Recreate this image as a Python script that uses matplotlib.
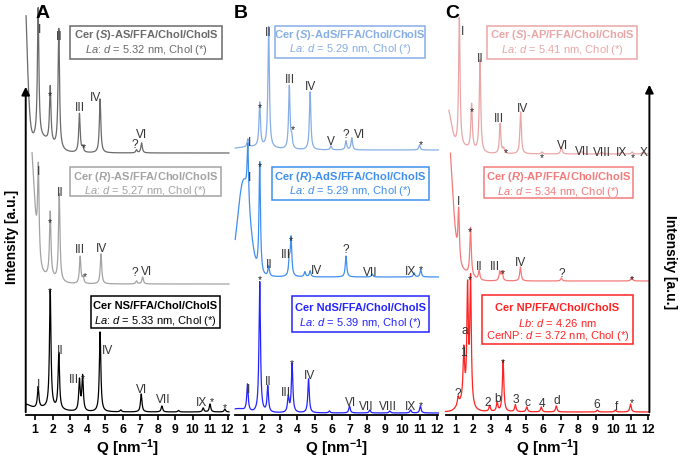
import numpy as np
import matplotlib.pyplot as plt
from matplotlib.patches import Rectangle

plt.rcParams['font.family'] = ['Liberation Sans', 'DejaVu Sans']
plt.rcParams['mathtext.fontset'] = 'custom'
plt.rcParams['mathtext.rm'] = 'Liberation Sans'
plt.rcParams['mathtext.it'] = 'Liberation Sans:italic'
plt.rcParams['mathtext.bf'] = 'Liberation Sans:bold'
try:
    plt.rcParams['mathtext.bfit'] = 'Liberation Sans:italic:bold'
except KeyError:
    pass

W, H = 682, 464
Q_MIN, Q_MAX = 0.47, 12.08
AX_ROW = 416          # pixel row of the Q axis
TICKS = list(range(1, 13))

# ---------------- data: peak positions [nm^-1] and heights [a.u.] ----------------
# panel A
as_s_q = [1.18, 1.87, 2.36, 3.54, 3.73, 4.72, 6.80, 7.09]
as_s_h = [130, 56, 120, 39, 5, 54, 3, 10]
as_s_bg = [(0.30, 200, 0.20), (1.20, 15, 0.70)]

as_r_q = [1.19, 1.87, 2.385, 3.58, 3.75, 4.77, 6.80, 7.15]
as_r_h = [90, 65, 87, 27, 6, 30, 3, 7]
as_r_bg = [(0.60, 168, 0.30), (1.50, 8, 0.60)]

ns_q = [1.18, 1.87, 2.36, 3.54, 3.72, 4.72, 5.90, 7.07, 8.25, 9.20, 10.61, 11.0, 11.85]
ns_h = [21, 118, 56, 31, 35, 80, 2, 18, 6, 1.5, 4, 8, 3]
ns_bg = [(0.40, 6, 0.30), (1.50, 4, 0.80)]

# panel B
ads_s_q = [1.19, 1.87, 2.38, 3.56, 3.70, 4.75, 5.94, 6.80, 7.13, 11.0]
ads_s_h = [8, 44, 121, 63, 10, 58, 4, 9, 12, 5]
ads_s_bg = [(1.50, 3, 1.00)]

ads_r_q = [1.19, 1.87, 2.38, 3.56, 3.66, 4.45, 4.75, 6.80, 8.30, 10.69, 11.07]
ads_r_h = [58, 112, 10, 15, 38, 5, 6, 21, 3, 4, 7]
ads_r_bg = [(0.95, 95, 0.35)]

nds_q = [1.17, 1.87, 2.33, 3.50, 3.72, 4.66, 5.85, 7.00, 8.16, 9.30, 10.49, 11.05]
nds_h = [27, 131, 26, 16, 49, 34, 2, 7, 3, 2, 3, 7]
nds_bg = [(0.60, 4, 0.40)]

# panel C
ap_s_q = [1.22, 1.92, 2.40, 3.55, 3.75, 4.72, 5.95, 7.05, 8.20, 9.35, 10.5, 11.1, 11.7]
ap_s_h = [130, 45, 92, 30, 5, 42, 2, 7, 3, 2, 3, 2, 2]
ap_s_bg = [(0.50, 45, 0.25), (1.40, 6, 0.60)]

ap_r_q = [1.18, 1.86, 2.35, 3.53, 3.66, 4.71, 7.05, 11.07]
ap_r_h = [52, 48, 9, 9, 9, 14, 3, 4]
ap_r_bg = [(0.50, 156, 0.30), (1.30, 10, 0.50)]

np_q = [1.15, 1.475, 1.69, 1.86, 2.95, 3.38, 3.72, 4.42, 5.07, 5.90, 6.76, 9.10, 10.13, 11.0]
np_h = [8, 50, 113, 125, 6, 9, 51, 7, 5, 5, 6, 2, 2, 8]
np_bg = [(1.45, 9, 0.30)]

# peak labels: (text, Q, height)
as_s_lab = [('I', 1.25, 386), ('*', 1.86, 322), ('II', 2.39, 379), ('III', 3.57, 308),
            ('*', 3.80, 270), ('IV', 4.43, 318), ('?', 6.71, 271), ('VI', 7.10, 281)]
as_r_lab = [('I', 1.23, 244), ('*', 1.86, 195), ('II', 2.43, 223), ('III', 3.57, 166),
            ('*', 3.86, 141), ('IV', 4.81, 167), ('?', 6.71, 143), ('VI', 7.38, 144)]
ns_lab = [('*', 1.86, 126), ('I', 1.23, 31), ('II', 2.43, 65), ('III', 3.23, 36),
          ('*', 3.76, 39), ('IV', 5.13, 65), ('VI', 7.10, 26), ('VII', 8.33, 16),
          ('IX', 10.53, 13), ('*', 11.10, 16), ('*', 11.86, 10)]
ads_s_lab = [('I', 1.27, 273), ('*', 1.85, 310), ('II', 2.36, 383), ('III', 3.60, 336),
             ('*', 3.79, 288), ('IV', 4.78, 329), ('V', 5.94, 274), ('?', 6.78, 281),
             ('VI', 7.60, 281), ('*', 11.07, 273)]
ads_r_lab = [('I', 1.27, 238), ('*', 1.85, 251), ('II', 2.40, 151), ('III', 3.35, 161),
             ('*', 3.64, 177), ('IV', 5.09, 145), ('?', 6.78, 166), ('VII', 8.17, 143),
             ('IX', 10.50, 144), ('*', 11.07, 148)]
nds_lab = [('*', 1.85, 138), ('I', 1.22, 26), ('II', 2.36, 34), ('III', 3.35, 23),
           ('*', 3.70, 54), ('IV', 4.74, 40), ('VI', 7.09, 13), ('VII', 7.98, 9),
           ('VIII', 9.18, 9), ('IX', 10.50, 9), ('*', 11.09, 12)]
ap_s_lab = [('I', 1.41, 384), ('*', 1.96, 306), ('II', 2.44, 357), ('III', 3.50, 297),
            ('*', 3.89, 265), ('IV', 4.82, 307), ('*', 5.96, 260), ('VI', 7.10, 270),
            ('VII', 8.27, 264), ('VIII', 9.39, 263), ('IX', 10.50, 263), ('*', 11.16, 260),
            ('X', 11.73, 263)]
ap_r_lab = [('I', 1.16, 214), ('*', 1.83, 186), ('II', 2.36, 149), ('III', 3.26, 149),
            ('*', 3.73, 144), ('IV', 4.69, 153), ('?', 7.07, 142), ('*', 11.07, 138)]
np_lab = [('*', 1.83, 138), ('?', 1.16, 22), ('1', 1.45, 63), ('a', 1.54, 85),
          ('*', 3.73, 55), ('2', 2.82, 13), ('b', 3.39, 17), ('3', 4.46, 16),
          ('c', 5.10, 13), ('4', 5.93, 12), ('d', 6.78, 15), ('6', 9.07, 11),
          ('f', 10.21, 9), ('*', 11.07, 15)]

# panel, colour, baseline, first Q, peaks, heights, background, labels
traces = [
    (0, '#6a6a6a', 262, 0.49, as_s_q, as_s_h, as_s_bg, as_s_lab),
    (0, '#a3a3a3', 131, 0.83, as_r_q, as_r_h, as_r_bg, as_r_lab),
    (0, '#000000', 3, 0.49, ns_q, ns_h, ns_bg, ns_lab),
    (1, '#86aee6', 265, 0.47, ads_s_q, ads_s_h, ads_s_bg, ads_s_lab),
    (1, '#3f8fee', 138, 0.47, ads_r_q, ads_r_h, ads_r_bg, ads_r_lab),
    (1, '#2424ff', 2, 0.47, nds_q, nds_h, nds_bg, nds_lab),
    (2, '#eaa6a6', 261, 0.62, ap_s_q, ap_s_h, ap_s_bg, ap_s_lab),
    (2, '#f47a7a', 134, 0.71, ap_r_q, ap_r_h, ap_r_bg, ap_r_lab),
    (2, '#ff2424', 3, 0.43, np_q, np_h, np_bg, np_lab),
]

# legend boxes: colour, (x0, y0, x1, y1) in px, text lines with their rows
boxes = [
    ('#6a6a6a', (70, 27, 222, 60), [r'Cer ($\mathbfit{S}$)-AS/FFA/Chol/CholS',
                                     r'$\mathit{La}$: $\mathit{d}$ = 5.32 nm, Chol (*)'], [35, 50]),
    ('#a3a3a3', (70, 168, 221, 197), [r'Cer ($\mathbfit{R}$)-AS/FFA/Chol/CholS',
                                       r'$\mathit{La}$: $\mathit{d}$ = 5.27 nm, Chol (*)'], [177, 191]),
    ('#000000', (91, 297, 220, 329), ['Cer NS/FFA/Chol/CholS',
                                       r'$\mathit{La}$: $\mathit{d}$ = 5.33 nm, Chol (*)'], [306, 321]),
    ('#86aee6', (275, 27, 425, 59), [r'Cer ($\mathbfit{S}$)-AdS/FFA/Chol/CholS',
                                      r'$\mathit{La}$: $\mathit{d}$ = 5.29 nm, Chol (*)'], [34.5, 49.5]),
    ('#3f8fee', (272, 168, 429, 201), [r'Cer ($\mathbfit{R}$)-AdS/FFA/Chol/CholS',
                                        r'$\mathit{La}$: $\mathit{d}$ = 5.29 nm, Chol (*)'], [177, 191]),
    ('#2424ff', (292, 297, 429, 333), ['Cer NdS/FFA/Chol/CholS',
                                        r'$\mathit{La}$: $\mathit{d}$ = 5.39 nm, Chol (*)'], [308, 323]),
    ('#eaa6a6', (487, 27, 637, 60), [r'Cer ($\mathbfit{S}$)-AP/FFA/Chol/CholS',
                                      r'$\mathit{La}$: $\mathit{d}$ = 5.41 nm, Chol (*)'], [35, 50]),
    ('#f47a7a', (484, 168, 633, 199), [r'Cer ($\mathbfit{R}$)-AP/FFA/Chol/CholS',
                                        r'$\mathit{La}$: $\mathit{d}$ = 5.34 nm, Chol (*)'], [177, 192]),
    ('#ff2424', (482, 296, 633, 345), ['Cer NP/FFA/Chol/CholS',
                                        r'$\mathit{Lb}$: $\mathit{d}$ = 4.26 nm',
                                        r'CerNP: $\mathit{d}$ = 3.72 nm, Chol (*)'], [308, 323, 336]),
]


def profile(q, pq, ph, bg, base, w=0.05):
    y = np.full_like(q, float(base))
    for c, a, s in bg:
        y += a * np.exp(-(q - c) ** 2 / (2 * s * s))
    for c, a in zip(pq, ph):
        y += a * w * w / ((q - c) ** 2 + w * w)
    return y


fig = plt.figure(figsize=(W / 100, H / 100), dpi=100)

# pixel position of Q = 1 in each panel, 17.5 px per nm^-1
q1_px = [35, 244.5, 455.5]
axes = []
for left in q1_px:
    x0 = left - (1 - Q_MIN) * 17.5
    ax = fig.add_axes([x0 / W, (H - AX_ROW) / H, (Q_MAX - Q_MIN) * 17.5 / W, AX_ROW / H])
    ax.set_xlim(Q_MIN, Q_MAX)
    ax.set_ylim(0, AX_ROW)
    ax.patch.set_alpha(0)
    for s in ['top', 'right', 'left']:
        ax.spines[s].set_visible(False)
    ax.spines['bottom'].set_linewidth(1.3)
    ax.set_yticks([])
    ax.set_xticks(TICKS)
    ax.set_xticklabels([str(t) for t in TICKS], fontweight='bold', fontsize=8.8)
    ax.tick_params(axis='x', direction='out', length=3.5, width=1.2, pad=2)
    ax.set_xlabel(r'Q [nm$^{\mathbf{-1}}$]', fontweight='bold', fontsize=11, labelpad=1)
    axes.append(ax)

for panel, col, base, q0, pq, ph, bg, labs in traces:
    ax = axes[panel]
    q = np.linspace(q0, Q_MAX, 3000)
    ax.plot(q, profile(q, pq, ph, bg, base), color=col, lw=0.9, clip_on=False)
    for txt, xq, yh in labs:
        if txt == '*':
            ax.text(xq, yh - 5, txt, ha='center', va='baseline', fontsize=7.5, color='#222222')
        else:
            ax.text(xq, yh, txt, ha='center', va='center', fontsize=8.6, color='#333333')

for col, (x0, y0, x1, y1), lines, rows in boxes:
    fig.add_artist(Rectangle((x0 / W, 1 - y1 / H), (x1 - x0) / W, (y1 - y0) / H,
                             transform=fig.transFigure, fill=True, fc='white', ec=col, lw=1.1))
    xc = (x0 + x1) / 2 / W
    for i, (s, r) in enumerate(zip(lines, rows)):
        fig.text(xc, 1 - r / H, s, ha='center', va='center', color=col, fontsize=8,
                 fontweight='bold' if i == 0 else 'normal')

# intensity arrows
axes[0].annotate('', xy=(Q_MIN, 331), xytext=(Q_MIN, 0),
                 arrowprops=dict(arrowstyle='-|>', lw=1.4, color='k', mutation_scale=12),
                 annotation_clip=False)
axes[2].annotate('', xy=(Q_MAX, 333), xytext=(Q_MAX, 0),
                 arrowprops=dict(arrowstyle='-|>', lw=1.4, color='k', mutation_scale=12),
                 annotation_clip=False)
fig.text(12 / W, 1 - 237 / H, 'Intensity [a.u.]', rotation=90, ha='center', va='center',
         fontsize=10, fontweight='bold')
fig.text(670 / W, 1 - 262 / H, 'Intensity [a.u.]', rotation=-90, ha='center', va='center',
         fontsize=10, fontweight='bold')

for letter, x, y in [('A', 43, 13), ('B', 241, 13), ('C', 452, 14)]:
    fig.text(x / W, 1 - y / H, letter, ha='center', va='center', fontsize=14, fontweight='bold')

fig.savefig('out.png', dpi=100)
